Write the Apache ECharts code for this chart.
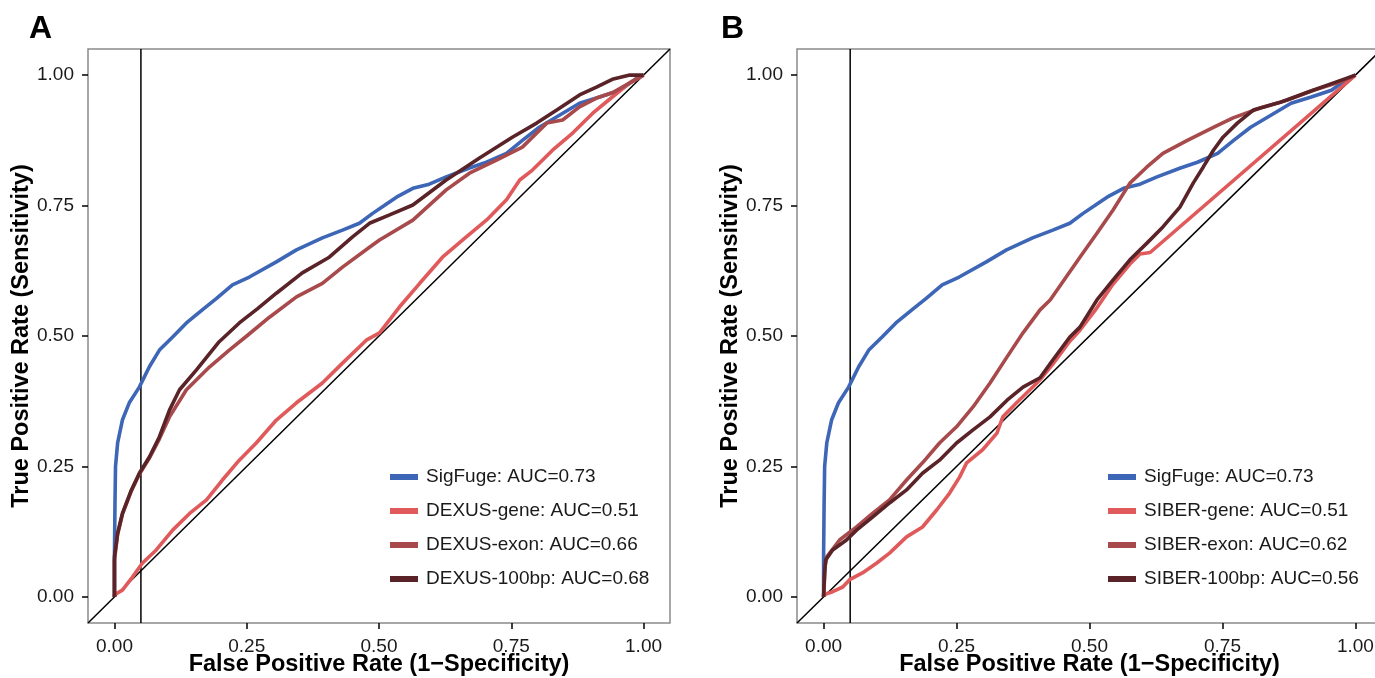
<!DOCTYPE html>
<html>
<head>
<meta charset="utf-8">
<script src="https://cdn.jsdelivr.net/npm/echarts@6/dist/echarts.min.js"></script>
<style>
html,body{margin:0;padding:0;background:#fff;}
#chart{width:1375px;height:678px;}
</style>
</head>
<body>
<div id="chart"></div>
<script>
// ---- data ----
const tickValues = [0, 0.25, 0.5, 0.75, 1];
const namesA = ['SigFuge: AUC=0.73','DEXUS-gene: AUC=0.51','DEXUS-exon: AUC=0.66','DEXUS-100bp: AUC=0.68'];
const namesB = ['SigFuge: AUC=0.73','SIBER-gene: AUC=0.51','SIBER-exon: AUC=0.62','SIBER-100bp: AUC=0.56'];
const colors = ['#3e66b6','#e05a5b','#a84a4c','#5a2327'];
const cutoffX = 0.05;

const sigfuge = [[0,0],[0,0.08],[0.001,0.18],[0.002,0.25],[0.006,0.295],[0.015,0.339],[0.028,0.372],[0.047,0.402],[0.066,0.441],[0.085,0.473],[0.110,0.498],[0.136,0.525],[0.166,0.550],[0.193,0.572],[0.223,0.598],[0.255,0.613],[0.306,0.642],[0.344,0.665],[0.393,0.688],[0.431,0.703],[0.463,0.716],[0.488,0.735],[0.510,0.750],[0.533,0.766],[0.564,0.783],[0.595,0.791],[0.627,0.805],[0.671,0.822],[0.703,0.833],[0.741,0.850],[0.771,0.875],[0.803,0.900],[0.841,0.923],[0.879,0.946],[0.917,0.958],[0.955,0.971],[0.987,0.994],[1,1]];

const dexusGene = [[0,0],[0,0.004],[0.015,0.013],[0.034,0.038],[0.053,0.065],[0.079,0.090],[0.110,0.128],[0.142,0.160],[0.174,0.186],[0.204,0.224],[0.236,0.262],[0.268,0.295],[0.306,0.339],[0.344,0.372],[0.393,0.410],[0.431,0.448],[0.476,0.492],[0.501,0.506],[0.539,0.556],[0.577,0.601],[0.620,0.651],[0.665,0.690],[0.703,0.722],[0.741,0.761],[0.766,0.799],[0.790,0.818],[0.828,0.856],[0.866,0.889],[0.904,0.927],[0.941,0.958],[0.974,0.985],[1,1]];

const dexusExon = [[0,0],[0,0.07],[0.006,0.12],[0.015,0.158],[0.032,0.203],[0.047,0.235],[0.066,0.266],[0.085,0.303],[0.104,0.345],[0.136,0.397],[0.180,0.441],[0.217,0.473],[0.250,0.500],[0.293,0.536],[0.344,0.575],[0.393,0.601],[0.431,0.632],[0.482,0.670],[0.501,0.684],[0.564,0.722],[0.627,0.780],[0.671,0.812],[0.722,0.837],[0.771,0.862],[0.817,0.908],[0.847,0.914],[0.879,0.939],[0.911,0.956],[0.941,0.966],[0.974,0.985],[1,1]];

const dexus100bp = [[0,0],[0,0.077],[0.006,0.122],[0.015,0.160],[0.032,0.205],[0.047,0.237],[0.066,0.268],[0.085,0.307],[0.104,0.358],[0.123,0.397],[0.155,0.435],[0.198,0.489],[0.236,0.525],[0.270,0.552],[0.306,0.582],[0.355,0.621],[0.406,0.651],[0.450,0.690],[0.482,0.716],[0.520,0.732],[0.564,0.751],[0.627,0.799],[0.690,0.841],[0.752,0.881],[0.798,0.908],[0.836,0.933],[0.879,0.962],[0.911,0.977],[0.941,0.992],[0.974,1.0],[1,1]];

const siberGene = [[0,0],[0,0.004],[0.017,0.010],[0.036,0.019],[0.049,0.033],[0.073,0.046],[0.100,0.065],[0.124,0.084],[0.156,0.115],[0.186,0.134],[0.213,0.167],[0.237,0.199],[0.256,0.230],[0.269,0.257],[0.299,0.282],[0.326,0.314],[0.337,0.345],[0.363,0.372],[0.388,0.397],[0.407,0.416],[0.431,0.446],[0.463,0.490],[0.482,0.511],[0.514,0.554],[0.544,0.599],[0.576,0.638],[0.595,0.657],[0.614,0.660],[1,1]];

const siberExon = [[0,0],[0.003,0.06],[0.006,0.077],[0.030,0.109],[0.062,0.134],[0.092,0.160],[0.124,0.186],[0.156,0.224],[0.186,0.257],[0.218,0.295],[0.250,0.326],[0.281,0.364],[0.313,0.410],[0.345,0.460],[0.375,0.506],[0.407,0.550],[0.426,0.569],[0.482,0.651],[0.514,0.697],[0.544,0.741],[0.576,0.793],[0.608,0.824],[0.638,0.850],[0.684,0.875],[0.733,0.900],[0.770,0.918],[0.821,0.937],[0.872,0.952],[0.921,0.971],[0.972,0.987],[1,1]];

const siber100bp = [[0,0],[0.002,0.05],[0.004,0.071],[0.017,0.090],[0.043,0.109],[0.062,0.128],[0.092,0.153],[0.124,0.180],[0.156,0.205],[0.186,0.237],[0.218,0.262],[0.250,0.295],[0.281,0.320],[0.313,0.345],[0.345,0.377],[0.375,0.402],[0.407,0.420],[0.431,0.454],[0.463,0.498],[0.482,0.517],[0.514,0.569],[0.544,0.607],[0.576,0.646],[0.608,0.678],[0.638,0.709],[0.670,0.747],[0.695,0.793],[0.714,0.824],[0.733,0.856],[0.751,0.881],[0.778,0.908],[0.808,0.933],[0.859,0.948],[0.910,0.967],[0.959,0.985],[1,1]];

const axisMin = -0.05, axisMax = 1.05;

// ---- chart ----
const chart = echarts.init(document.getElementById('chart'), null, {renderer:'canvas'});
const FONT = 'Liberation Sans, Arial, Helvetica, sans-serif';

function xAx(gi){
  return {
    gridIndex: gi, type:'value', min: axisMin, max: axisMax,
    name: 'False Positive Rate (1\u2212Specificity)', nameLocation:'middle', nameGap: 30, nameMoveOverlap:false,
    nameTextStyle:{fontFamily:FONT, fontWeight:'bold', fontSize:23.5, color:'#000'},
    axisLine:{show:false, onZero:false},
    axisTick:{show:true, inside:false, customValues: tickValues, length:6, lineStyle:{color:'#000', width:1.5}},
    axisLabel:{customValues: tickValues, formatter: v => v.toFixed(2), margin:14, fontFamily:FONT, fontSize:19, color:'#1a1a1a'},
    splitLine:{show:false}
  };
}
function yAx(gi){
  return {
    gridIndex: gi, type:'value', min: axisMin, max: axisMax,
    name: 'True Positive Rate (Sensitivity)', nameLocation:'middle', nameGap: 52,
    nameTextStyle:{fontFamily:FONT, fontWeight:'bold', fontSize:23.5, color:'#000'},
    axisLine:{show:false, onZero:false},
    axisTick:{show:true, inside:false, customValues: tickValues, length:6, lineStyle:{color:'#000', width:1.5}},
    axisLabel:{customValues: tickValues, formatter: v => v.toFixed(2), margin:14, fontFamily:FONT, fontSize:19, color:'#1a1a1a'},
    splitLine:{show:false}
  };
}
function refLines(gi){
  return [
    {type:'line', xAxisIndex:gi, yAxisIndex:gi, data:[[axisMin,axisMin],[axisMax,axisMax]], showSymbol:false, silent:true,
     lineStyle:{color:'#000', width:1.5}, z:1, legendHoverLink:false},
    {type:'line', xAxisIndex:gi, yAxisIndex:gi, data:[[cutoffX,axisMin],[cutoffX,axisMax]], showSymbol:false, silent:true,
     lineStyle:{color:'#000', width:1.5}, z:1, legendHoverLink:false}
  ];
}
function curve(gi, name, data, color){
  return {type:'line', name, xAxisIndex:gi, yAxisIndex:gi, data, showSymbol:false, symbol:'none',
    lineStyle:{color, width:3.6}, itemStyle:{color}, z:3, animation:false};
}
function legend(left, names){
  return {
    data: names, orient:'vertical', left, top:462, itemWidth:28, itemHeight:6, itemGap:14, icon:'rect',
    textStyle:{fontFamily:FONT, fontSize:19, color:'#1a1a1a', lineHeight:20, padding:[0,0,0,3]},
    selectedMode:false
  };
}

const option = {
  animation:false,
  backgroundColor:'#fff',
  title:[
    {text:'A', left:24, top:8, textStyle:{fontFamily:FONT, fontWeight:'bold', fontSize:32, color:'#000'}},
    {text:'B', left:716, top:8, textStyle:{fontFamily:FONT, fontWeight:'bold', fontSize:32, color:'#000'}}
  ],
  grid:[
    {left:88, top:49, width:582, height:574, outerBoundsMode:'none', containLabel:false, show:true, borderColor:'#8a8a8a', borderWidth:1.5, backgroundColor:'transparent'},
    {left:797, top:49, width:585, height:574, outerBoundsMode:'none', containLabel:false, show:true, borderColor:'#8a8a8a', borderWidth:1.5, backgroundColor:'transparent'}
  ],
  xAxis:[xAx(0), xAx(1)],
  yAxis:[yAx(0), yAx(1)],
  legend:[legend(385, namesA), legend(1103, namesB)],
  series:[
    ...refLines(0),
    curve(0, namesA[0], sigfuge, colors[0]),
    curve(0, namesA[1], dexusGene, colors[1]),
    curve(0, namesA[2], dexusExon, colors[2]),
    curve(0, namesA[3], dexus100bp, colors[3]),
    ...refLines(1),
    curve(1, namesB[0], sigfuge, colors[0]),
    curve(1, namesB[1], siberGene, colors[1]),
    curve(1, namesB[2], siberExon, colors[2]),
    curve(1, namesB[3], siber100bp, colors[3])
  ]
};
chart.setOption(option);
</script>
</body>
</html>
